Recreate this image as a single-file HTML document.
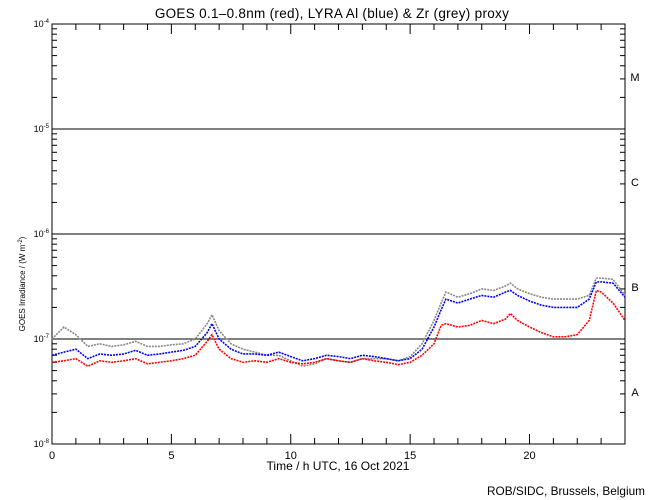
<!DOCTYPE html>
<html><head><meta charset="utf-8"><style>
body{margin:0;background:#fff;}
svg{display:block;font-family:"Liberation Sans",sans-serif;}
</style></head><body>
<svg id="chart" width="650" height="500">
<rect width="650" height="500" fill="#fff"/>
<text x="332" y="18" font-size="13.5" letter-spacing="0.3" text-anchor="middle">GOES 0.1–0.8nm (red), LYRA Al (blue) &amp; Zr (grey) proxy</text>
<g id="axes"></g>
<g id="series"></g>
<text x="338" y="470" font-size="12" text-anchor="middle">Time / h UTC, 16 Oct 2021</text>
<text transform="translate(25,284) rotate(-90)" font-size="8" text-anchor="middle">GOES Irradiance / (W m<tspan dy="-3" font-size="6">-2</tspan><tspan dy="3">)</tspan></text>
<text x="645" y="495" font-size="11.8" text-anchor="end">ROB/SIDC, Brussels, Belgium</text>
</svg>
<script>
const hours=[0,0.5,1,1.5,2,2.5,3,3.5,4,4.5,5,5.5,6,6.5,6.7,7,7.5,8,8.5,9,9.5,10,10.5,11,11.5,12,12.5,13,13.5,14,14.5,15,15.5,16,16.3,16.5,17,17.5,18,18.5,19,19.2,19.5,20,20.5,21,21.5,22,22.5,22.8,23,23.5,24];
const redVals=[6.0e-8,6.2e-8,6.5e-8,5.5e-8,6.2e-8,6e-8,6.2e-8,6.5e-8,5.8e-8,6e-8,6.2e-8,6.5e-8,7e-8,9.5e-8,1.1e-7,8e-8,6.5e-8,6e-8,6.2e-8,6e-8,6.5e-8,6e-8,5.8e-8,6e-8,6.5e-8,6.2e-8,6e-8,6.5e-8,6.2e-8,6e-8,5.7e-8,6e-8,7e-8,9e-8,1.35e-7,1.4e-7,1.3e-7,1.35e-7,1.5e-7,1.4e-7,1.55e-7,1.75e-7,1.5e-7,1.3e-7,1.15e-7,1.05e-7,1.05e-7,1.1e-7,1.5e-7,2.9e-7,2.8e-7,2.2e-7,1.5e-7];
const blueVals=[7e-8,7.5e-8,8e-8,6.5e-8,7.2e-8,7e-8,7.2e-8,7.8e-8,7e-8,7.2e-8,7.5e-8,7.8e-8,8.5e-8,1.15e-7,1.4e-7,1.0e-7,8e-8,7.2e-8,7.2e-8,7e-8,7.5e-8,6.8e-8,6.2e-8,6.5e-8,7e-8,6.8e-8,6.5e-8,7e-8,6.8e-8,6.5e-8,6.2e-8,6.5e-8,8e-8,1.3e-7,1.9e-7,2.4e-7,2.2e-7,2.4e-7,2.6e-7,2.5e-7,2.8e-7,2.9e-7,2.6e-7,2.3e-7,2.1e-7,2.0e-7,2.0e-7,2.0e-7,2.4e-7,3.5e-7,3.5e-7,3.4e-7,2.5e-7];
const greyVals=[1.0e-7,1.3e-7,1.1e-7,8.5e-8,9e-8,8.5e-8,8.8e-8,9.5e-8,8.5e-8,8.5e-8,8.8e-8,9e-8,1.0e-7,1.4e-7,1.7e-7,1.2e-7,9e-8,8e-8,7.5e-8,7e-8,7e-8,6.2e-8,5.5e-8,5.8e-8,6.5e-8,6.2e-8,6e-8,6.5e-8,6.5e-8,6.5e-8,6.2e-8,6.8e-8,9e-8,1.5e-7,2.2e-7,2.8e-7,2.5e-7,2.7e-7,3.0e-7,2.9e-7,3.2e-7,3.4e-7,3.0e-7,2.7e-7,2.5e-7,2.4e-7,2.4e-7,2.4e-7,2.6e-7,3.8e-7,3.8e-7,3.7e-7,2.6e-7];
const xTicks=[0,5,10,15,20];
const decades=[-8,-7,-6,-5,-4];
const classes=["A","B","C","M"];

const L=52,R=625,T=24,B=444;
const X=h=>L+(R-L)*h/24;
const Y=v=>B-(Math.log10(v)+8)*105;
const NS="http://www.w3.org/2000/svg";
const axes=document.getElementById('axes'),ser=document.getElementById('series');
function mk(tag,at,parent){const e=document.createElementNS(NS,tag);for(const k in at)e.setAttribute(k,at[k]);parent.appendChild(e);return e;}

const frame=mk('rect',{x:L,y:T,width:R-L,height:B-T,fill:'none',stroke:'#000','stroke-width':1},axes);


for(let h=0;h<=24;h++){
  const len=xTicks.includes(h)?10:6;
  mk('line',{x1:X(h),x2:X(h),y1:B,y2:B-len,stroke:'#000'},axes);
  mk('line',{x1:X(h),x2:X(h),y1:T,y2:T+len,stroke:'#000'},axes);
}
xTicks.forEach(h=>{
  const t=mk('text',{x:X(h),y:B+15,'font-size':11,'text-anchor':'middle'},axes);
  t.textContent=h;
  
  
});
decades.forEach((d,i)=>{
  const y=Y(Math.pow(10,d));
  if(d>-8&&d<-4){
    const gl=mk('line',{x1:L,x2:R,y1:y,y2:y,stroke:'#000'},axes);
    
    
  }
  const t=mk('text',{x:L-3,y:y+3,'font-size':9,'text-anchor':'end'},axes);
  t.innerHTML='10<tspan dy="-4" font-size="6">'+d+'</tspan>';
  
  
  if(i<4){
    for(let m=2;m<=9;m++){
      const yy=Y(m*Math.pow(10,d));
      mk('line',{x1:L,x2:L+5,y1:yy,y2:yy,stroke:'#000'},axes);
      mk('line',{x1:R,x2:R-5,y1:yy,y2:yy,stroke:'#000'},axes);
    }
    const c=mk('text',{x:635,y:y-52+4,'font-size':11,'text-anchor':'middle'},axes);
    c.textContent=classes[i];
    
    
  }
});
function series(vals,color,name){
  const p=mk('polyline',{points:vals.map((v,i)=>X(hours[i])+','+Y(v)).join(' '),fill:'none',stroke:color,'stroke-width':1.6,'stroke-dasharray':'2 1'},ser);
  
  
}
series(greyVals,'#888','zr-proxy-series');
series(blueVals,'#0000ff','al-proxy-series');
series(redVals,'#ff0000','goes-series');
</script>
</body></html>
